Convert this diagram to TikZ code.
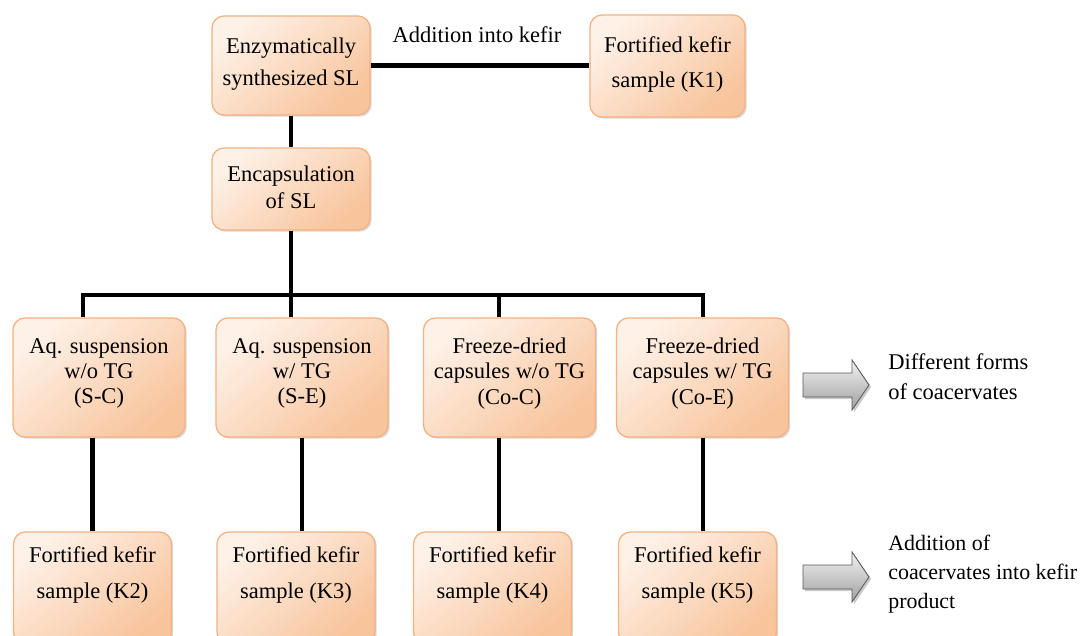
\documentclass[tikz,border=0pt]{standalone}
\usepackage{fontspec}
\setmainfont{Liberation Serif}
\usetikzlibrary{shadows}
\definecolor{boxlight}{HTML}{FEF1E7}
\definecolor{boxdark}{HTML}{F8C49C}
\definecolor{boxline}{HTML}{F4B183}
\newcommand{\lowpad}[1]{\rule[-#1]{0pt}{#1}}
\begin{document}
\begin{tikzpicture}[x=0.025cm, y=-0.025cm,
  box/.style={rectangle, rounded corners=0.3cm, draw=boxline, line width=0.9pt,
    top color=boxlight, bottom color=boxdark, shading angle=40,
    drop shadow={shadow xshift=1.2pt, shadow yshift=-1.2pt, opacity=0.25, fill=black!60},
    align=center, inner sep=2pt, font=\fontsize{16}{24}\selectfont},
  rowbox/.style={box, minimum width=4.3cm, minimum height=2.975cm, font=\fontsize{16}{17.8}\selectfont},
  kbox/.style={box, minimum width=3.95cm, minimum height=2.8cm, font=\fontsize{16}{25}\selectfont},
  link/.style={line width=3.5pt},
  bigarrow/.style={draw=gray!70!black, line width=0.6pt, line join=miter,
    top color=gray!10, bottom color=gray!75,
    drop shadow={shadow xshift=1.5pt, shadow yshift=-1.5pt, opacity=0.35, fill=black!60}},
  note/.style={anchor=west, align=left, inner sep=0pt}]
  \useasboundingbox (0,0) rectangle (1083,636);

  % top part
  \node[box, minimum width=3.95cm, minimum height=2.475cm, font=\fontsize{16}{22.8}\selectfont] (syn) at (291,65.5) {Enzymatically\\synthesized SL\lowpad{6pt}};
  \node[box, minimum width=3.875cm, minimum height=2.55cm, font=\fontsize{16}{24.9}\selectfont] (k1) at (667.5,66) {Fortified kefir\\sample (K1)\lowpad{5pt}};
  \node[box, minimum width=3.95cm, minimum height=2.05cm, font=\fontsize{16}{19.2}\selectfont] (enc) at (291,189) {Encapsulation\\of SL\lowpad{3pt}};
  \node[font=\fontsize{16}{19}\selectfont] (lbl) at (477,35) {Addition into kefir};
  \draw[link] (syn.east) -- (syn.east -| k1.west);
  \draw[link] (syn) -- (enc);

  % forms of coacervates
  \node[rowbox] (sc) at (99,377.5) {Aq. suspension\\w/o TG\\(S-C)\lowpad{9pt}};
  \node[rowbox] (se) at (302,377.5) {Aq. suspension\\w/ TG\\(S-E)\lowpad{9pt}};
  \node[rowbox] (coc) at (509.5,377.5) {Freeze-dried\\capsules w/o TG\\(Co-C)\lowpad{9pt}};
  \node[rowbox] (coe) at (702.5,377.5) {Freeze-dried\\capsules w/ TG\\(Co-E)\lowpad{9pt}};
  \coordinate (b1) at (83,295);
  \coordinate (b2) at (291,295);
  \coordinate (b3) at (499,295);
  \coordinate (b4) at (703,295);
  \draw[link] (enc) -- (b2);
  \draw[link, line cap=rect] (b1) -- (b4);
  \draw[link] (b1) -- (b1 |- sc.north);
  \draw[link] (b2) -- (b2 |- se.north);
  \draw[link] (b3) -- (b3 |- coc.north);
  \draw[link] (b4) -- (b4 |- coe.north);

  % kefir samples
  \node[kbox] (k2) at (92.5,588) {Fortified kefir\\sample (K2)\lowpad{22pt}};
  \node[kbox] (k3) at (296,588) {Fortified kefir\\sample (K3)\lowpad{22pt}};
  \node[kbox] (k4) at (492.5,588) {Fortified kefir\\sample (K4)\lowpad{22pt}};
  \node[kbox] (k5) at (697.5,588) {Fortified kefir\\sample (K5)\lowpad{22pt}};
  \draw[link] (sc.south -| k2) -- (k2);
  \draw[link] (se) -- (se |- k3.north);
  \draw[link] (b3 |- coc.south) -- (b3 |- k4.north);
  \draw[link] (b4 |- coe.south) -- (b4 |- k5.north);

  % side notes
  \shade[bigarrow] (803,373) -- (852,373) -- (852,360) -- (869,385) -- (852,410) -- (852,397) -- (803,397) -- cycle;
  \shade[bigarrow] (803,565) -- (852,565) -- (852,552) -- (869,577) -- (852,602) -- (852,589) -- (803,589) -- cycle;
  \node[note, font=\fontsize{16}{21.3}\selectfont] (n1) at (888,377) {Different forms\\of coacervates};
  \node[note, font=\fontsize{15.6}{20.6}\selectfont] (n2) at (888,574) {Addition of\\coacervates into kefir\\product};
\end{tikzpicture}
\end{document}
